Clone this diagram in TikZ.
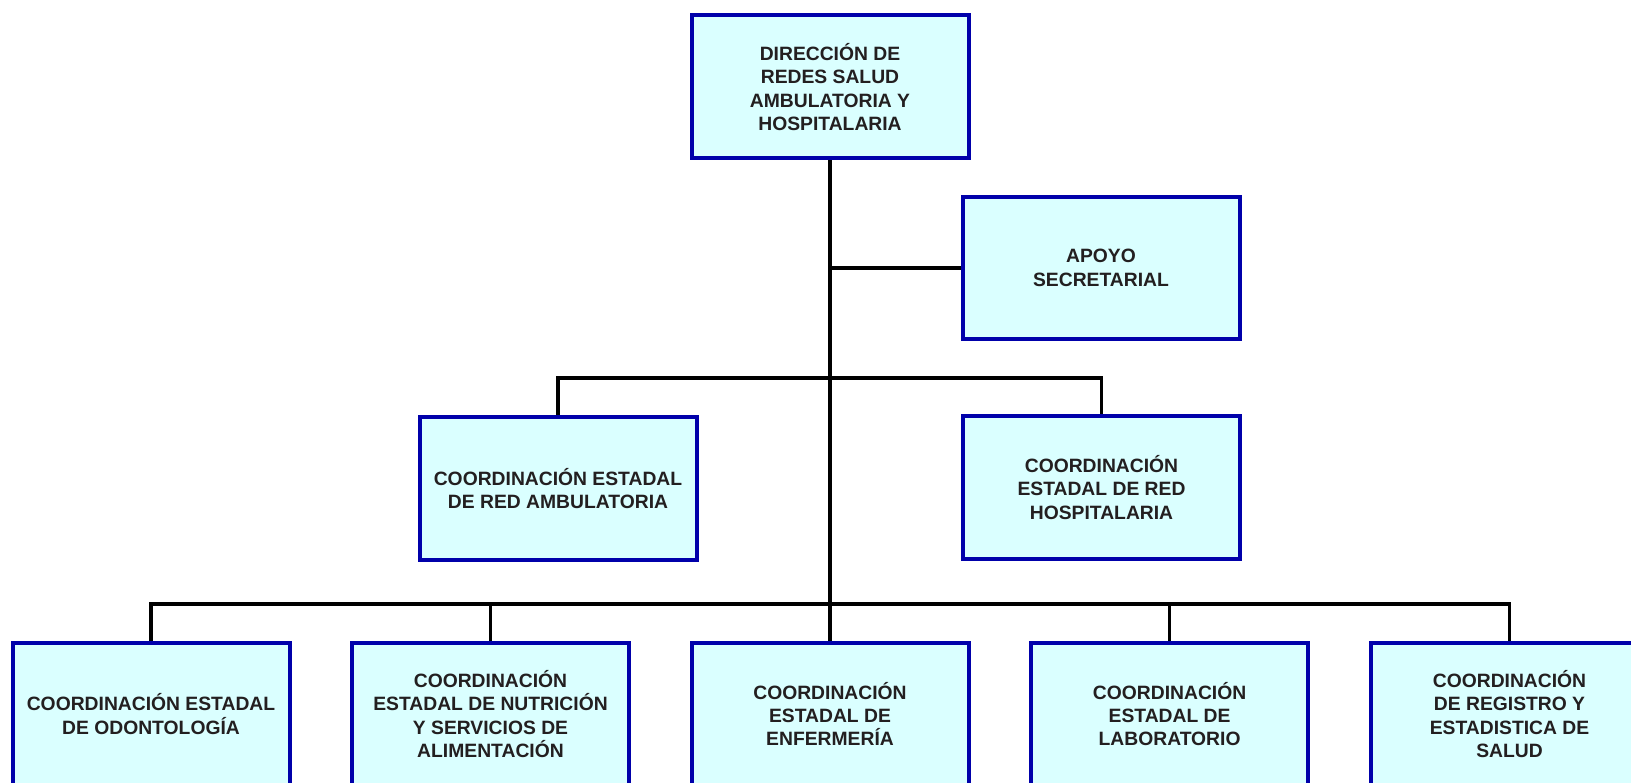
\documentclass[tikz,border=0pt]{standalone}
\usepackage{fontspec}
\setmainfont{Liberation Sans}
\definecolor{boxfill}{RGB}{218,255,255}
\definecolor{boxline}{RGB}{0,0,170}
\definecolor{txt}{RGB}{35,31,32}
\begin{document}
\begin{tikzpicture}[x=1pt,y=-1pt,
  orgbox/.style={draw=boxline, fill=boxfill, line width=4pt, rectangle,
    minimum width=277pt, minimum height=142pt, inner sep=0pt, align=center,
    text=txt, font=\fontsize{19.3}{23.3}\selectfont\bfseries},
  link/.style={draw=black, line width=3.3pt}]
\useasboundingbox (0,0) rectangle (1631,783);
\begin{scope}
\clip (0,0) rectangle (1631,783);
\node[orgbox, minimum height=143pt] (top) at (830,87) {DIRECCIÓN DE\\REDES SALUD\\AMBULATORIA Y\\HOSPITALARIA};
\node[orgbox] (apoyo) at (1101,268) {APOYO\\SECRETARIAL};
\node[orgbox] (amb) at (558,488.5) {COORDINACIÓN ESTADAL\\DE RED AMBULATORIA};
\node[orgbox] (hosp) at (1101.5,487.5) {COORDINACIÓN\\ESTADAL DE RED\\HOSPITALARIA};
\node[orgbox] (b1) at (151,714) {COORDINACIÓN ESTADAL\\DE ODONTOLOGÍA};
\node[orgbox] (b2) at (490.5,714) {COORDINACIÓN\\ESTADAL DE NUTRICIÓN\\Y SERVICIOS DE\\ALIMENTACIÓN};
\node[orgbox] (b3) at (830,714) {COORDINACIÓN\\ESTADAL DE\\ENFERMERÍA};
\node[orgbox] (b4) at (1169.6,714) {COORDINACIÓN\\ESTADAL DE\\LABORATORIO};
\node[orgbox] (b5) at (1509.5,714) {COORDINACIÓN\\DE REGISTRO Y\\ESTADISTICA DE\\SALUD};
\coordinate (bus1) at (830,378);
\coordinate (bus2) at (830,604);
\draw[link] (top.south) -- (b3.north);
\draw[link] (top.south |- apoyo.west) -- (apoyo.west);
\draw[link] (amb.north) -- (amb.north |- bus1) -- (hosp.north |- bus1) -- (hosp.north);
\draw[link] (b1.north) -- (b1.north |- bus2) -- (b5.north |- bus2) -- (b5.north);
\draw[link] (b2.north) -- (b2.north |- bus2);
\draw[link] (b4.north) -- (b4.north |- bus2);
\end{scope}
\end{tikzpicture}
\end{document}
